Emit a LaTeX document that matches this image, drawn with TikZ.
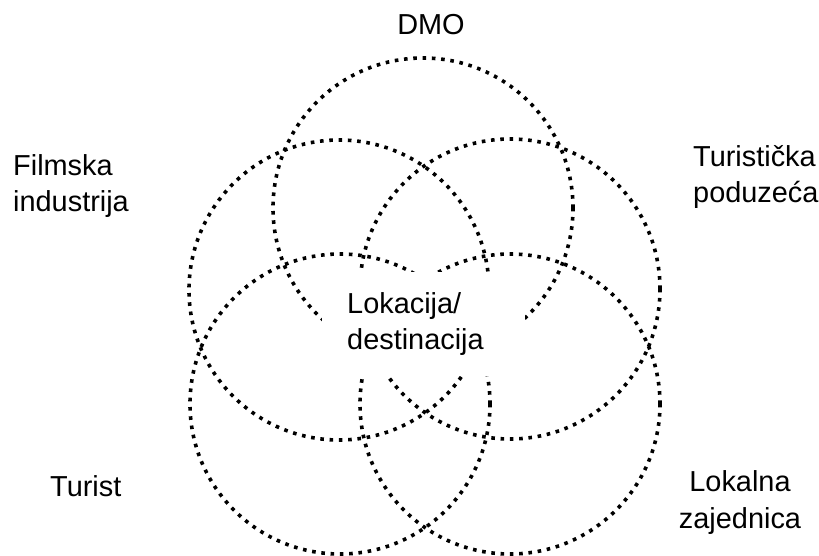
\documentclass[tikz,border=0pt]{standalone}
\usepackage{fontspec}
\setmainfont{Liberation Sans}

\begin{document}
\begin{tikzpicture}[x=1bp, y=-1bp,
  ring/.style={circle, draw, line width=3.6bp, dash pattern=on 3.6bp off 5.7bp,
    minimum size=300bp, inner sep=0pt},
  tag/.style={font=\fontsize{29}{37}\selectfont, inner sep=0pt}]
\useasboundingbox (0,0) rectangle (819,556);

\node[ring] (1) at (423,208) {};

\node[ring] (2) at (339,290) {};

\node[ring] (3) at (510,289) {};

\node[ring] (4) at (340,404) {};

\node[ring] (5) at (510,404) {};

\node[tag, anchor=base] (6) at (431,35) {DMO};

\node[tag, anchor=base west, align=left] (7) at (13,212)
{Filmska\\industrija};

\node[tag, anchor=base west, align=left] (8) at (693,203)
{Turistička\\poduzeća};

\node[tag, anchor=base west] (9) at (50,496) {Turist};

\node[tag, anchor=base, align=center] (10) at (740,528)
{Lokalna\\zajednica};

\node[tag, fill=white, anchor=north west, align=left, text width=153bp,
  inner xsep=25bp, inner ysep=20bp] (11) at (322,272)
{Lokacija/\\destinacija};
\end{tikzpicture}
\end{document}
